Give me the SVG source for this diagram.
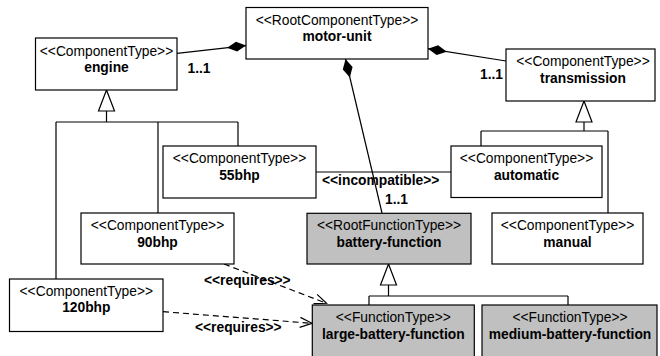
<svg xmlns="http://www.w3.org/2000/svg" width="660" height="356" viewBox="0 0 660 356">
  <style>
    .box { fill: #ffffff; stroke: #000000; stroke-width: 1.2; }
    .fn { fill: #c0c0c0; stroke: #000000; stroke-width: 1.2; }
    .st { font-family: "Liberation Sans", Arial, sans-serif; font-size: 13.8px; fill: #000000; text-anchor: middle; }
    .nm { font-family: "Liberation Sans", Arial, sans-serif; font-size: 13.8px; font-weight: bold; fill: #000000; text-anchor: middle; }
    .lbl { font-family: "Liberation Sans", Arial, sans-serif; font-size: 13.8px; font-weight: bold; fill: #000000; }
    .ln { fill: none; stroke: #000000; stroke-width: 1.2; }
    .dash { fill: none; stroke: #000000; stroke-width: 1.2; stroke-dasharray: 6 4; marker-end: url(#open); }
    .comp { fill: none; stroke: #000000; stroke-width: 1.2; marker-start: url(#diamond); }
    .gen { fill: #ffffff; stroke: #000000; stroke-width: 1.2; }
  </style>
  <defs>
    <marker id="diamond" markerUnits="userSpaceOnUse" markerWidth="22" markerHeight="12" refX="0" refY="6" orient="auto" overflow="visible">
      <polygon points="0,6 9.5,1 19,6 9.5,11" fill="#000000"/>
    </marker>
    <marker id="open" markerUnits="userSpaceOnUse" markerWidth="14" markerHeight="12" refX="13" refY="6" orient="auto" overflow="visible">
      <polyline points="1,1 13,6 1,11" fill="none" stroke="#000000" stroke-width="1.2"/>
    </marker>
  </defs>

  <!-- connectors -->
  <g id="connectors">
    <!-- compositions owned by motor-unit -->
    <path class="comp" d="M246,45.6 L177,53.3"/>
    <path class="comp" d="M428,48.7 L506,61"/>
    <path class="comp" d="M345.5,59 L382,213"/>

    <!-- engine specialisations -->
    <polygon class="gen" points="106.5,90 98.5,111 114.5,111"/>
    <path class="ln" d="M106.5,111 V122 M56,122 H238 M56,122 V279 M158,122 V213 M238,122 V146"/>

    <!-- transmission specialisations -->
    <polygon class="gen" points="584,101 576,122 592,122"/>
    <path class="ln" d="M584,122 V131 M481,131 H608 M481,131 V146 M608,131 V213"/>

    <!-- battery-function specialisations -->
    <polygon class="gen" points="388.5,264 380.5,285 396.5,285"/>
    <path class="ln" d="M388.5,285 V296 M369,296 H568 M369,296 V305 M568,296 V305"/>

    <!-- incompatible association -->
    <path class="ln" d="M316,172 H451"/>
    <text class="lbl" x="322" y="184.5">&lt;&lt;incompatible&gt;&gt;</text>
    <text class="lbl" x="385" y="204">1..1</text>

    <!-- multiplicities -->
    <text class="lbl" x="187.5" y="73">1..1</text>
    <text class="lbl" x="480" y="79">1..1</text>

    <!-- requires dependencies -->
    <path class="dash" d="M224,264 L326.5,303.3"/>
    <text class="lbl" x="204" y="284.5">&lt;&lt;requires&gt;&gt;</text>
    <path class="dash" d="M163,311.7 L312,323.3"/>
    <text class="lbl" x="195" y="331.5">&lt;&lt;requires&gt;&gt;</text>
  </g>

  <g id="motor-unit">
    <rect class="box" x="246" y="7.5" width="182" height="51.5"/>
    <text class="st" x="337" y="24.5">&lt;&lt;RootComponentType&gt;&gt;</text>
    <text class="nm" x="337" y="41">motor-unit</text>
  </g>

  <g id="engine">
    <rect class="box" x="35.5" y="38" width="141.5" height="52"/>
    <text class="st" x="106.5" y="55.5">&lt;&lt;ComponentType&gt;&gt;</text>
    <text class="nm" x="106.5" y="71.5">engine</text>
  </g>

  <g id="transmission">
    <rect class="box" x="506" y="49" width="149" height="52"/>
    <text class="st" x="583" y="66">&lt;&lt;ComponentType&gt;&gt;</text>
    <text class="nm" x="583" y="82.5">transmission</text>
  </g>

  <g id="bhp55">
    <rect class="box" x="163" y="146" width="153" height="52"/>
    <text class="st" x="239.5" y="163">&lt;&lt;ComponentType&gt;&gt;</text>
    <text class="nm" x="239.5" y="179.5">55bhp</text>
  </g>

  <g id="automatic">
    <rect class="box" x="451" y="146" width="151" height="51.5"/>
    <text class="st" x="526.5" y="163">&lt;&lt;ComponentType&gt;&gt;</text>
    <text class="nm" x="526.5" y="179.5">automatic</text>
  </g>

  <g id="bhp90">
    <rect class="box" x="81" y="213" width="153" height="51"/>
    <text class="st" x="157.5" y="230">&lt;&lt;ComponentType&gt;&gt;</text>
    <text class="nm" x="157.5" y="246.5">90bhp</text>
  </g>

  <g id="battery-function">
    <rect class="fn" x="307" y="213.3" width="164" height="50.7"/>
    <text class="st" x="389" y="230">&lt;&lt;RootFunctionType&gt;&gt;</text>
    <text class="nm" x="389" y="246.5">battery-function</text>
  </g>

  <g id="manual">
    <rect class="box" x="492" y="213" width="151" height="51"/>
    <text class="st" x="567.5" y="230">&lt;&lt;ComponentType&gt;&gt;</text>
    <text class="nm" x="567.5" y="246.5">manual</text>
  </g>

  <g id="bhp120">
    <rect class="box" x="9.5" y="279" width="153.5" height="52.5"/>
    <text class="st" x="86.3" y="295.5">&lt;&lt;ComponentType&gt;&gt;</text>
    <text class="nm" x="86.3" y="312">120bhp</text>
  </g>

  <g id="large-battery-function">
    <rect class="fn" x="312.3" y="305" width="162" height="60"/>
    <text class="st" x="393.3" y="322">&lt;&lt;FunctionType&gt;&gt;</text>
    <text class="nm" x="393.3" y="338.5">large-battery-function</text>
  </g>

  <g id="medium-battery-function">
    <rect class="fn" x="482" y="305" width="175" height="60"/>
    <text class="st" x="570" y="322">&lt;&lt;FunctionType&gt;&gt;</text>
    <text class="nm" x="570" y="338.5">medium-battery-function</text>
  </g>
</svg>
